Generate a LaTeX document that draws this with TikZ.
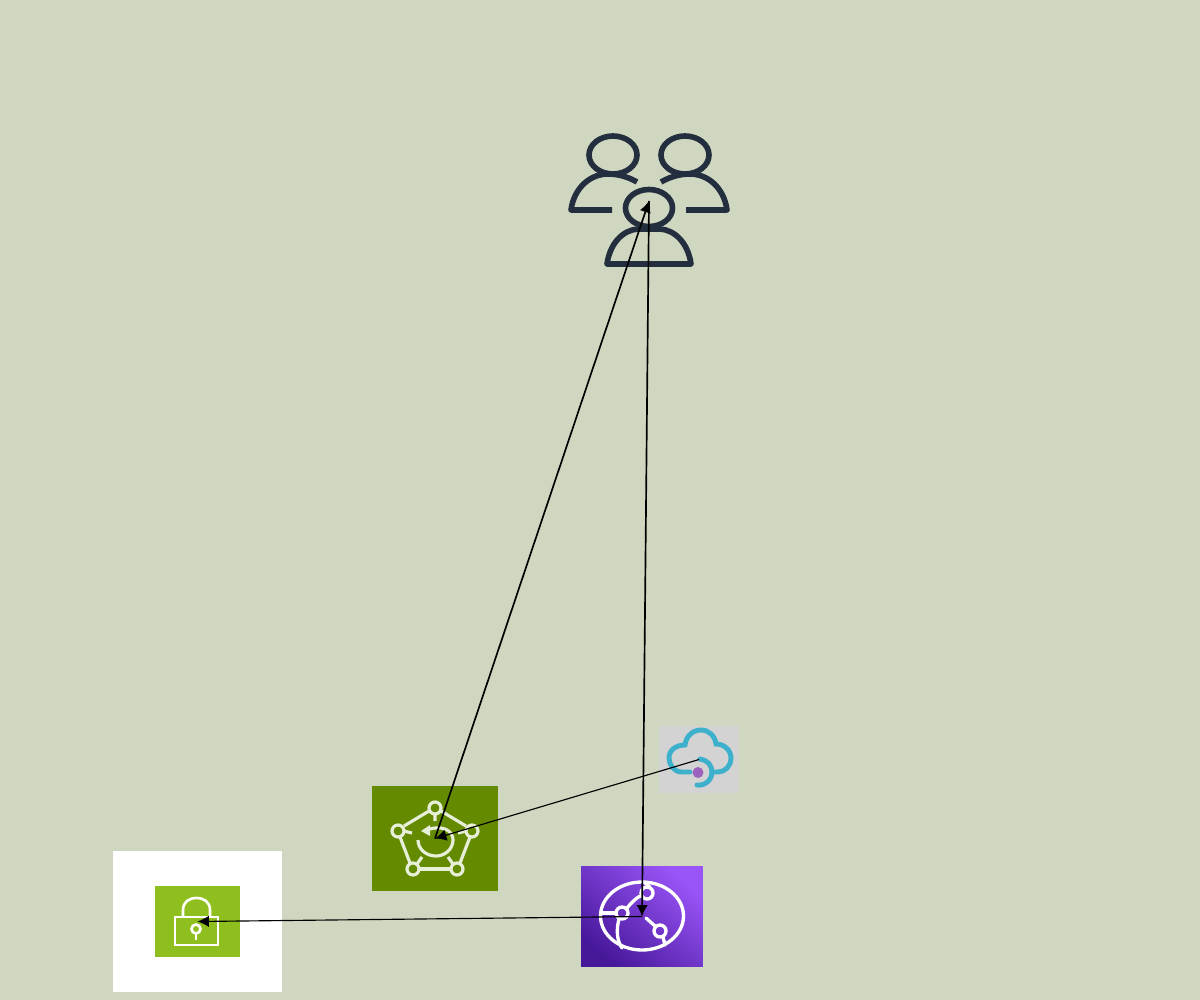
\documentclass[tikz,border=0pt]{standalone}
\usepackage{tikz}
\usetikzlibrary{positioning}
\usetikzlibrary{arrows.meta}
\definecolor{bgcol}{HTML}{D0D7C0}
\definecolor{usercol}{HTML}{232F3E}
\definecolor{pentacol}{HTML}{648A00}
\definecolor{pentaline}{HTML}{E8EFD8}
\definecolor{lockcol}{HTML}{8FBF1F}
\definecolor{purplelight}{HTML}{9A55F8}
\definecolor{purpledark}{HTML}{47189A}
\definecolor{cloudcol}{HTML}{3DB0CC}
\definecolor{cloudbox}{HTML}{D3D3D3}
\definecolor{dotcol}{HTML}{9B63BE}
\begin{document}
\begin{tikzpicture}[x=0.02cm, y=-0.02cm,
    iconbox/.style = {inner sep=0pt, outer sep=0pt},
    userline/.style = {draw=usercol, line width=3.2pt, line join=round},
    iconline/.style = {draw=white, line width=1.5pt},
    globeline/.style = {draw=white, line width=1.9pt, line cap=round},
    pentaicon/.style = {draw=pentaline, line width=1.8pt},
    cloudline/.style = {draw=cloudcol, line width=2.8pt, line cap=round},
    link/.style = {draw=black, line width=0.95pt, -{Latex[length=6.5pt,width=6.5pt]}},
    thinlink/.style = {draw=black, line width=0.65pt, -{Latex[length=6.5pt,width=6.5pt]}}]
            \fill[bgcol, use as bounding box] (0,0) rectangle (1200,1000);
            % Nodes
            \node[iconbox, minimum width=3.2cm, minimum height=2.64cm] (users) at (649,201) {};
            \node[iconbox, fill=pentacol, minimum width=2.52cm, minimum height=2.1cm] (pentagon) at (435,838.5) {};
            \node[iconbox, fill=cloudbox, minimum width=1.6cm, minimum height=1.34cm] (cloud) at (699,759.5) {};
            \node[iconbox, minimum width=2.44cm, minimum height=2.02cm, top color=purplelight, bottom color=purpledark, shading angle=-40] (globe) at (642,916.5) {};
            \node[iconbox, fill=white, minimum width=3.38cm, minimum height=2.82cm] (lockback) at (197.5,921.5) {};
            \node[iconbox, fill=lockcol, minimum width=1.7cm, minimum height=1.42cm] (lock) at (197.5,921.5) {};
            % Users icon
            \draw[userline] (613,155) ellipse [x radius=24, y radius=19];
            \draw[userline] (685,155) ellipse [x radius=24, y radius=19];
            \draw[userline] (649,208) ellipse [x radius=23.5, y radius=18.5];
            \draw[userline] (612,210) -- (571,210) .. controls (574,188) and (590,174) .. (608,174) .. controls (620,174) and (630,178) .. (637,182);
            \draw[userline] (686,210) -- (727,210) .. controls (724,188) and (708,174) .. (690,174) .. controls (678,174) and (668,178) .. (661,182);
            \draw[userline] (607,264) -- (691,264) .. controls (688,243) and (675,230) .. (660,229) -- (638,229) .. controls (623,230) and (610,243) .. (607,264) -- cycle;
            % Pentagon icon
            \draw[pentaicon] (441,811) -- (466,826) (429,811) -- (404,826);
            \draw[pentaicon] (400,837) -- (410,863) (470,837) -- (460,863);
            \draw[pentaicon] (419,869) -- (451,869);
            \draw[pentaicon] (435,814) -- (435,821) (404,831) -- (412,833) (466,831) -- (458,833);
            \draw[pentaicon] (417,864) -- (422,857) (453,864) -- (448,857);
            \foreach \px/\py in {435/808, 398/831, 472/831, 413/869, 457/869}
                \draw[pentaicon] (\px,\py) circle [radius=6];
            \draw[pentaicon] (430,829) .. controls (445,825) and (453,832) .. (453,840) .. controls (453,849) and (445,856) .. (436,856) .. controls (426,856) and (418,849) .. (418,840);
            \fill[pentaline] (421,831) -- (430,825) -- (430,836) -- cycle;
            % Cloud icon
            \draw[cloudline] (690,772) -- (682,772) .. controls (674,772) and (669,765) .. (669,758) .. controls (669,750) and (676,745) .. (685,745) .. controls (686,736) and (693,730) .. (701,730) .. controls (709,730) and (715,736) .. (716,744) .. controls (724,744) and (731,750) .. (731,758) .. controls (731,766) and (725,772) .. (718,772) -- (712,772);
            \draw[cloudline] (700,759) .. controls (707,760) and (712,765) .. (712,772) .. controls (712,780) and (705,786) .. (697,785);
            \fill[dotcol] (698,772.5) circle [radius=5.5];
            % Globe icon
            \draw[globeline] (642,916) ellipse [x radius=41.5, y radius=34];
            \foreach \px/\py in {647/893, 622/913, 660/931}
                \draw[globeline] (\px,\py) circle [radius=6];
            \draw[globeline] (616,913) -- (601,913);
            \draw[globeline] (627,908) .. controls (631,903) and (635,899) .. (640,896);
            \draw[globeline] (619,919) .. controls (616,930) and (617,941) .. (622,948);
            \draw[globeline] (646,918) -- (655,926);
            \draw[globeline] (650,887) -- (645,883);
            \draw[globeline] (663,937) -- (665,945);
            % Lock icon
            \draw[iconline] (175,917) rectangle (218,945);
            \draw[iconline] (183,917) -- (183,910) .. controls (183,902) and (189,898) .. (196.5,898) .. controls (204,898) and (210,902) .. (210,910) -- (210,917);
            \draw[iconline] (196,929) circle [radius=4.5];
            \draw[iconline] (196,933.5) -- (196,940);
            % Edges
            \draw[link] (pentagon.center) -- (users.center);
            \draw[link] (users.center) -- (globe.center);
            \draw[thinlink] (cloud.center) -- (pentagon.center);
            \draw[thinlink] (globe.center) -- (lock.center);
            \end{tikzpicture}
\end{document}
